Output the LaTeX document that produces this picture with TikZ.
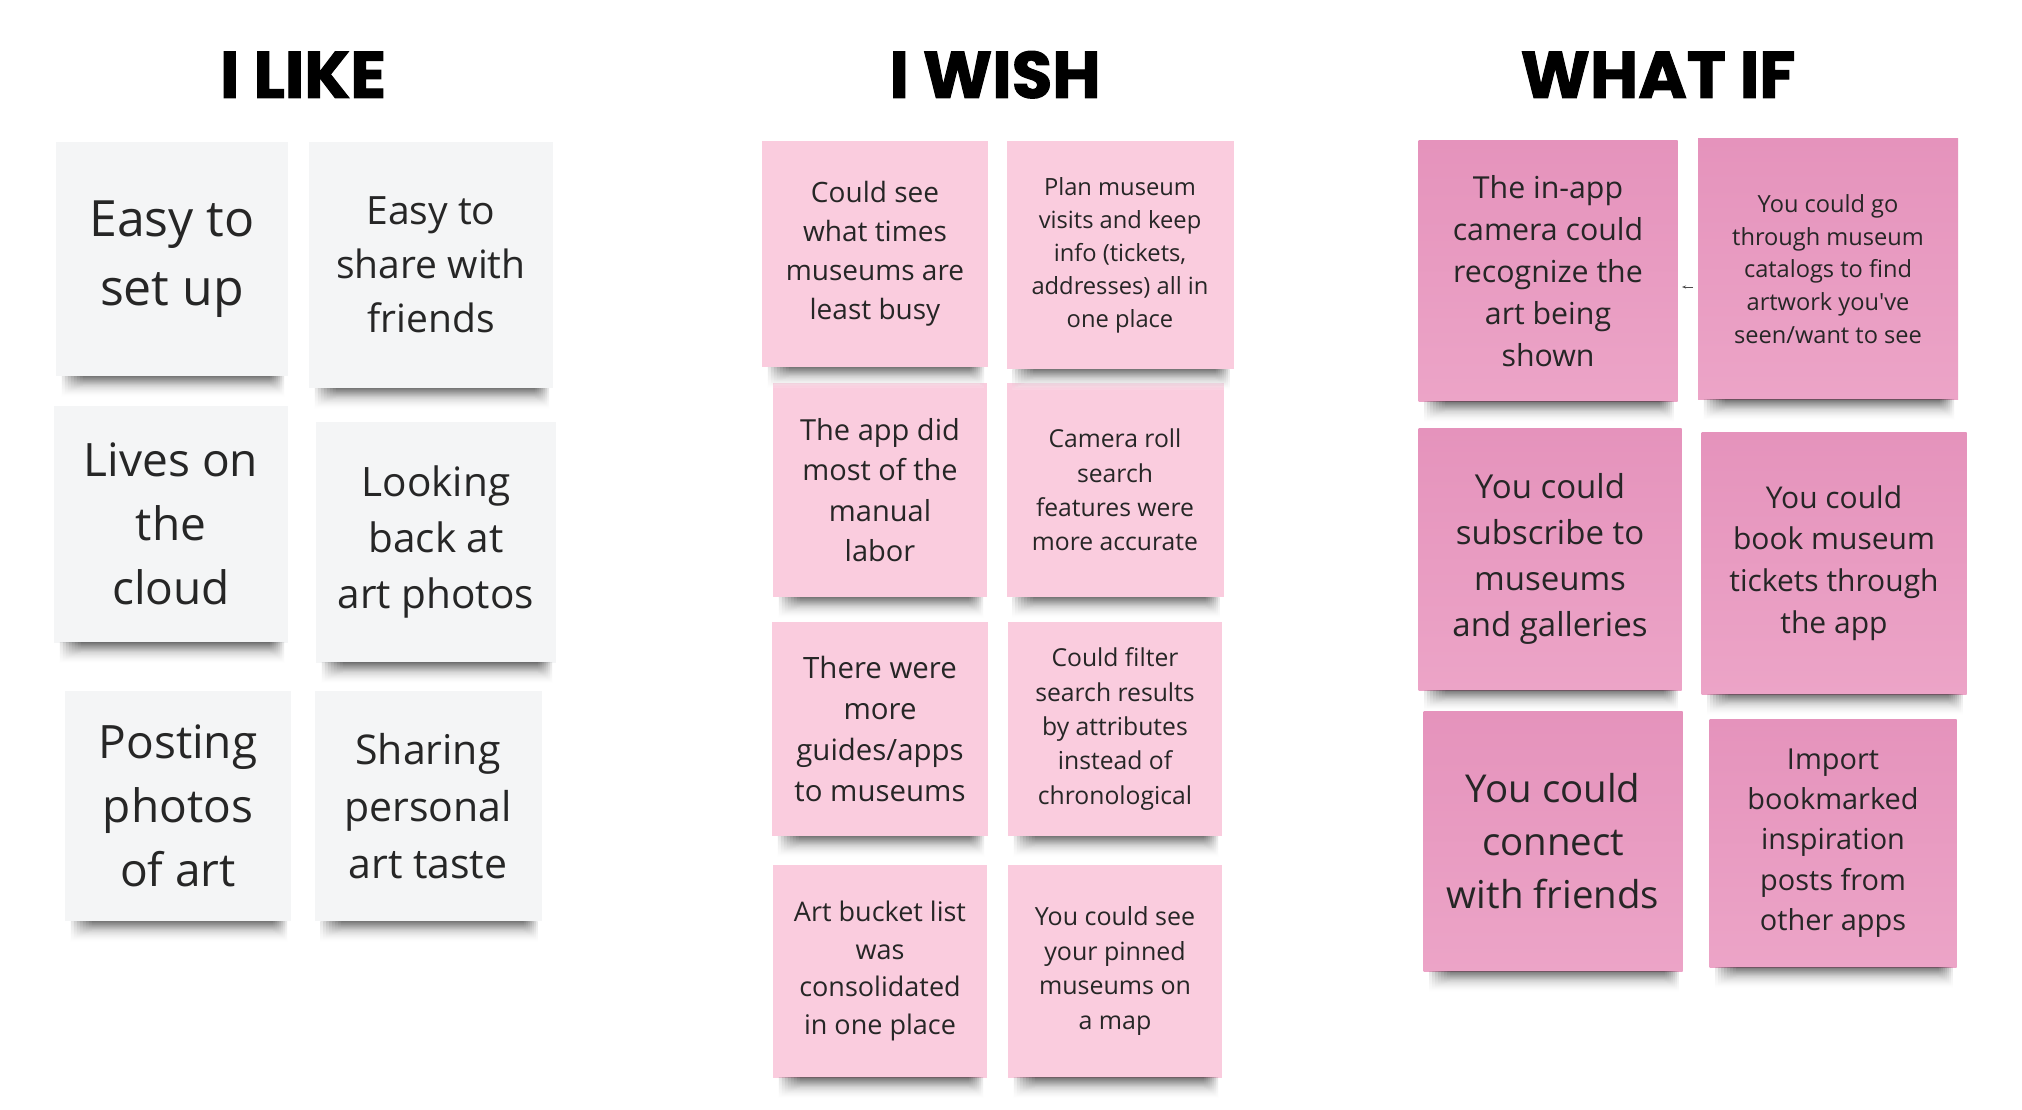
\documentclass[tikz,border=0pt]{standalone}
\usepackage{fontspec}
\setmainfont{Open Sans}
\newfontfamily\titlefont{Poppins}[BoldFeatures={FakeBold=1.5}]
\usetikzlibrary{arrows.meta}

\definecolor{likefill}{HTML}{F4F5F6}
\definecolor{wishfill}{HTML}{FACCDE}
\definecolor{whatiftop}{HTML}{E593BC}
\definecolor{whatifbot}{HTML}{ECA4C7}
\definecolor{notetext}{HTML}{262626}

\begin{document}
\begin{tikzpicture}[
  x=1pt, y=-1pt,
  >={Stealth[length=4pt,width=3pt]},
  hdr/.style={font=\titlefont\bfseries\fontsize{66}{70}\selectfont, text=black,
              inner sep=0pt, anchor=base},
  txt/.style={/utils/exec={\pgfmathsetmacro\noteskip{1.39*#1}},
              font=\fontsize{#1}{\noteskip}\selectfont},
  note/.style={align=center, inner sep=0pt, text=notetext},
  like/.style={note, fill=likefill},
  wish/.style={note, fill=wishfill},
  whatif/.style={note, top color=whatiftop, bottom color=whatifbot},
  lift/.style={top color=black!80, bottom color=white, opacity=0.12},
  stub/.style={->, black!70, line width=0.6pt}
]
\fill[white] (0,0) rectangle (2022,1110);
\useasboundingbox (0,0) rectangle (2022,1110);

% column headers
\node[hdr] (hlike) at (303,98) {I LIKE};
\node[hdr] (hwish) at (995,98) {I WISH};
\node[hdr] (hwhatif) at (1658,98) {WHAT IF};

% I like
\node[like, txt=50, minimum width=232, minimum height=234] (l1) at (172,259) {Easy to\\set up};
\node[like, txt=39, minimum width=244, minimum height=246] (l2) at (431,265) {Easy to\\share with\\friends};
\node[like, txt=46, minimum width=234, minimum height=237] (l3) at (171,524) {Lives on\\the\\cloud};
\node[like, txt=40.5, minimum width=240, minimum height=241] (l4) at (436,542) {Looking\\back at\\art photos};
\node[like, txt=46, minimum width=226, minimum height=230] (l5) at (178,806) {Posting\\photos\\of art};
\node[like, txt=41, minimum width=227, minimum height=230] (l6) at (428,806) {Sharing\\personal\\art taste};

% I wish
\node[wish, txt=28, minimum width=226, minimum height=226] (w1) at (875,254)
  {Could see\\what times\\museums are\\least busy};
\node[wish, txt=23.7, minimum width=227, minimum height=228] (w2) at (1120,255)
  {Plan museum\\visits and keep\\info (tickets,\\addresses) all in\\one place};
\node[wish, txt=29, minimum width=214, minimum height=214] (w3) at (880,490)
  {The app did\\most of the\\manual\\labor};
\node[wish, txt=24.7, minimum width=217, minimum height=214] (w4) at (1115,490)
  {Camera roll\\search\\features were\\more accurate};
\node[wish, txt=29.4, minimum width=216, minimum height=214] (w5) at (880,729)
  {There were\\more\\guides/apps\\to museums};
\node[wish, txt=24.7, minimum width=214, minimum height=214] (w6) at (1115,729)
  {Could filter\\search results\\by attributes\\instead of\\chronological};
\node[wish, txt=27, minimum width=214, minimum height=213] (w7) at (880,971)
  {Art bucket list\\was\\consolidated\\in one place};
\node[wish, txt=25, minimum width=214, minimum height=213] (w8) at (1115,971)
  {You could see\\your pinned\\museums on\\a map};

% What if
\node[whatif, txt=30.3, minimum width=259, minimum height=261] (f1) at (1548,271)
  {The in-app\\camera could\\recognize the\\art being\\shown};
\node[whatif, txt=23.6, minimum width=260, minimum height=261] (f2) at (1828,269)
  {You could go\\through museum\\catalogs to find\\artwork you\textquotesingle ve\\seen/want to see};
\node[whatif, txt=33, minimum width=263, minimum height=262] (f3) at (1550,559)
  {You could\\subscribe to\\museums\\and galleries};
\node[whatif, txt=30, minimum width=265, minimum height=262] (f4) at (1834,563)
  {You could\\book museum\\tickets through\\the app};
\node[whatif, txt=38.4, minimum width=259, minimum height=260] (f5) at (1553,841)
  {You could\\connect\\with friends};
\node[whatif, txt=28.9, minimum width=247, minimum height=248] (f6) at (1833,843)
  {Import\\bookmarked\\inspiration\\posts from\\other apps};

% soft shadow under each sticky note
\foreach \n in {l1,l2,l3,l4,l5,l6,w1,w2,w3,w4,w5,w6,w7,w8,f1,f2,f3,f4,f5,f6}
  \foreach \k in {0,...,7}
    \shade[lift] ([xshift=6+3*\k]\n.south west)
      rectangle ([xshift=-4-2*\k, yshift=-20+1.5*\k]\n.south east);

% stray arrow mark between the first two notes
\coordinate (tickA) at (1693,287);
\coordinate (tickB) at (1682,287);
\draw[stub] (tickA) -- (tickB);
\end{tikzpicture}
\end{document}
